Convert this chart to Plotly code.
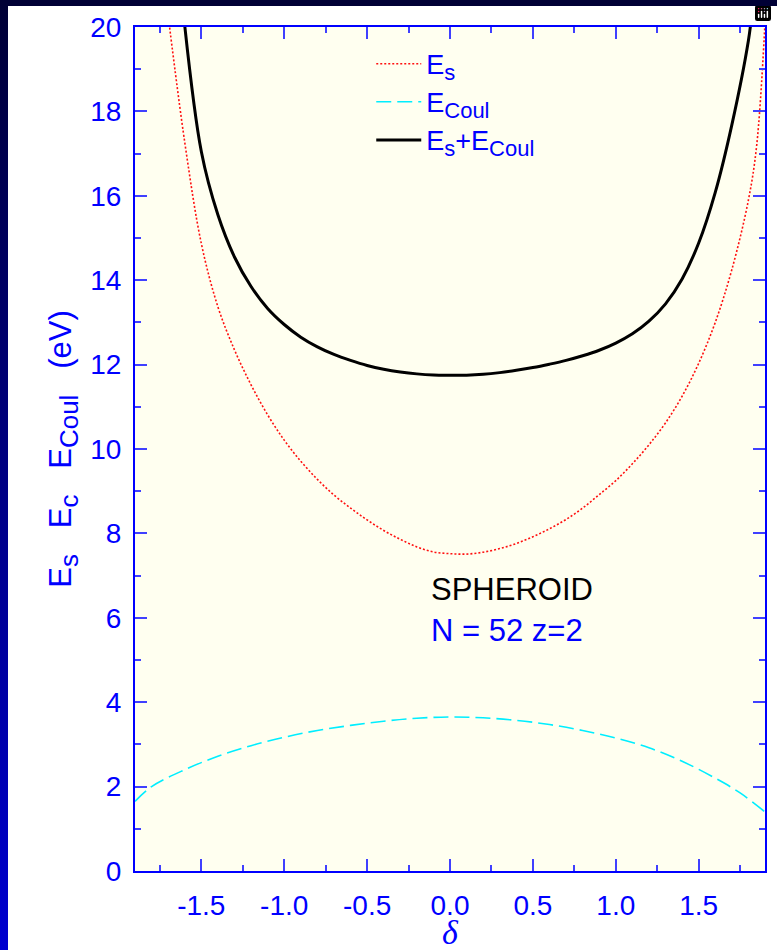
import plotly.graph_objects as go

# ---- data ----
delta_es = [-1.70, -1.60, -1.50, -1.40, -1.30, -1.20, -1.10, -1.00, -0.90, -0.80, -0.70,
            -0.60, -0.50, -0.40, -0.30, -0.20, -0.10, 0.0, 0.10, 0.20, 0.30, 0.40, 0.50,
            0.60, 0.70, 0.80, 0.90, 1.00, 1.10, 1.20, 1.30, 1.40, 1.50, 1.60, 1.70, 1.80,
            1.85, 1.90]
e_s = [20.27, 17.27, 14.87, 13.37, 12.35, 11.52, 10.81, 10.21, 9.71, 9.28, 8.91,
       8.60, 8.32, 8.07, 7.86, 7.68, 7.56, 7.52, 7.51, 7.555, 7.64, 7.76, 7.92,
       8.11, 8.33, 8.60, 8.92, 9.25, 9.65, 10.1, 10.62, 11.25, 12.03, 13.0, 14.25, 15.9,
       17.2, 20.1]

delta_ec = [-1.9, -1.8, -1.6, -1.4, -1.2, -1.0, -0.8, -0.6, -0.4, -0.2, 0.0, 0.2, 0.4,
            0.6, 0.8, 1.0, 1.2, 1.4, 1.6, 1.75, 1.9]
e_coul = [1.65, 2.0, 2.4, 2.72, 2.97, 3.17, 3.33, 3.45, 3.55, 3.62, 3.65, 3.63, 3.57,
          3.47, 3.33, 3.15, 2.92, 2.6, 2.2, 1.85, 1.4]

delta_sum = [-1.61, -1.50, -1.40, -1.30, -1.20, -1.10, -1.00, -0.90, -0.80, -0.70,
             -0.60, -0.50, -0.40, -0.30, -0.20, -0.10, 0.0, 0.10, 0.20, 0.30, 0.40, 0.50,
             0.60, 0.70, 0.80, 0.90, 1.00, 1.10, 1.20, 1.30, 1.40, 1.50, 1.60, 1.70, 1.80,
             1.82]
e_sum = [20.4, 17.05, 15.55, 14.55, 13.85, 13.33, 12.95, 12.65, 12.42, 12.24,
         12.10, 11.98, 11.89, 11.825, 11.78, 11.755, 11.75, 11.75, 11.77, 11.81, 11.865, 11.93,
         12.01, 12.10, 12.21, 12.34, 12.51, 12.73, 13.03, 13.44, 14.03, 14.88, 16.08, 17.68, 19.68,
         20.3]

x_ticks = [-1.5, -1.0, -0.5, 0.0, 0.5, 1.0, 1.5]
x_tick_labels = ["-1.5", "-1.0", "-0.5", "0.0", "0.5", "1.0", "1.5"]
y_ticks = [0, 2, 4, 6, 8, 10, 12, 14, 16, 18, 20]

FONT = "Liberation Sans, Arial, Helvetica, sans-serif"
BLUE = "#0000ff"


def sub(t, size):
    return f"<sub><span style='font-size:{size}px'>{t}</span></sub>"


fig = go.Figure()
fig.add_trace(go.Scatter(x=delta_es, y=e_s, mode="lines", name="E" + sub("s", 22),
                         line=dict(color="#ff1010", width=1.6, dash="2px,2px", shape="spline")))
fig.add_trace(go.Scatter(x=delta_ec, y=e_coul, mode="lines", name="E" + sub("Coul", 22),
                         line=dict(color="#00eeff", width=1.6, dash="15px,6px", shape="spline")))
fig.add_trace(go.Scatter(x=delta_sum, y=e_sum, mode="lines",
                         name="E" + sub("s", 22) + "+E" + sub("Coul", 22),
                         line=dict(color="black", width=3, shape="spline")))

fig.add_annotation(x=-0.126, y=6.66, xref="x", yref="y", text="SPHEROID", showarrow=False,
                   xanchor="left", yanchor="middle", font=dict(family=FONT, size=31, color="black"))
fig.add_annotation(x=-0.126, y=5.7, xref="x", yref="y", text="N = 52 z=2", showarrow=False,
                   xanchor="left", yanchor="middle", font=dict(family=FONT, size=31, color=BLUE))

W, H = 777, 950
L, R, T, B = 135, 10, 27, 79
ph = H - T - B

# x-axis title (delta), placed below the tick labels
fig.add_annotation(x=0.5, y=(H - B - 932) / ph, xref="paper", yref="paper", text="<i>δ</i>",
                   showarrow=False, xanchor="center", yanchor="middle",
                   font=dict(family="Liberation Serif, Times New Roman, serif", size=34, color=BLUE))

fig.update_layout(
    width=W, height=H,
    margin=dict(l=L, r=R, t=T, b=B),
    paper_bgcolor="white",
    plot_bgcolor="#fffff0",
    font=dict(family=FONT, color=BLUE, size=27),
    legend=dict(x=0.375, y=0.985, xanchor="left", yanchor="top", bgcolor="rgba(0,0,0,0)",
                font=dict(family=FONT, size=27, color=BLUE), tracegroupgap=0, itemwidth=45),
    showlegend=True,
    modebar=dict(bgcolor="rgba(0,0,0,0)", color="rgba(0,0,0,0)", activecolor="rgba(0,0,0,0)"),
)
fig.update_xaxes(range=[-1.9, 1.9], tickvals=x_ticks, ticktext=x_tick_labels,
                 ticks="inside", ticklen=12, tickwidth=1.5, tickcolor="#4040ff",
                 minor=dict(dtick=0.25, tick0=0, ticklen=6, tickwidth=1.5, tickcolor="#4040ff", ticks="inside"),
                 showline=True, linecolor=BLUE, linewidth=2, mirror="ticks", showgrid=False, zeroline=False,
                 tickfont=dict(family=FONT, size=28, color=BLUE), ticklabelstandoff=8)
fig.update_yaxes(range=[0, 20], tickvals=y_ticks,
                 ticks="inside", ticklen=12, tickwidth=1.5, tickcolor="#4040ff",
                 minor=dict(dtick=1, tick0=0, ticklen=6, tickwidth=1.5, tickcolor="#4040ff", ticks="inside"),
                 showline=True, linecolor=BLUE, linewidth=2, mirror="ticks", showgrid=False, zeroline=False,
                 tickfont=dict(family=FONT, size=28, color=BLUE), ticklabelstandoff=6,
                 title=dict(text="E" + sub("s", 26) + "   E" + sub("c", 26) + "   E" + sub("Coul", 26) + "   (eV)",
                            font=dict(family=FONT, size=31, color=BLUE), standoff=9))

# slide-style frame (dark top strip and blue gradient strip on the left), drawn as page decoration
frame_js = (
    "document.body.style.margin='0';document.body.style.overflow='hidden';"
    "var a=document.createElement('div');"
    "a.style.cssText='position:fixed;left:0;top:0;width:777px;height:6px;background:#000035;z-index:10;pointer-events:none';"
    "document.body.appendChild(a);"
    "var b=document.createElement('div');"
    "b.style.cssText='position:fixed;left:0;top:0;width:8px;height:950px;background:linear-gradient(#000035,#0000d0);z-index:10;pointer-events:none';"
    "document.body.appendChild(b);"
)
fig.write_html("out.html", post_script=frame_js)
